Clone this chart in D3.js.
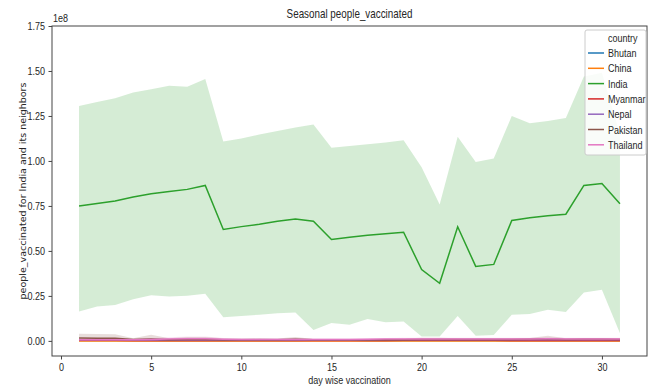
<!DOCTYPE html>
<html>
<head>
<meta charset="utf-8">
<script src="https://cdn.jsdelivr.net/npm/d3@7"></script>
<style>
  body { margin: 0; background: #fff; }
  text { font-family: "Liberation Sans", Arial, sans-serif; fill: #262626; }
</style>
</head>
<body>
<div id="chart-area"></div>
<script>
/* Data (people vaccinated, units of 1e8) */
const days = [1, 2, 3, 4, 5, 6, 7, 8, 9, 10, 11, 12, 13, 14, 15, 16, 17, 18, 19, 20, 21, 22, 23, 24, 25, 26, 27, 28, 29, 30, 31]
const countries = ['Bhutan', 'China', 'India', 'Myanmar', 'Nepal', 'Pakistan', 'Thailand']
const colors = ['#1f77b4', '#ff7f0e', '#2ca02c', '#d62728', '#9467bd', '#8c564b', '#e377c2']
const yTicks = [0, 0.25, 0.5, 0.75, 1.0, 1.25, 1.5, 1.75]
const xTicks = [0, 5, 10, 15, 20, 25, 30]

const indiaMean = [0.749, 0.764, 0.777, 0.800, 0.818, 0.830, 0.842, 0.864, 0.619, 0.635, 0.648, 0.665, 0.678, 0.665, 0.563, 0.576,
	0.587, 0.595, 0.604, 0.396, 0.320, 0.634, 0.414, 0.425, 0.669, 0.684, 0.695, 0.704, 0.864, 0.875, 0.762]
const indiaHigh = [1.306, 1.328, 1.349, 1.381, 1.399, 1.418, 1.412, 1.455, 1.108, 1.125, 1.147, 1.167, 1.186, 1.202, 1.074, 1.083,
	1.093, 1.102, 1.115, 0.965, 0.758, 1.135, 0.994, 1.013, 1.250, 1.210, 1.222, 1.239, 1.470, 1.490, 1.150]
const indiaLow = [0.163, 0.191, 0.200, 0.232, 0.253, 0.247, 0.251, 0.262, 0.132, 0.139, 0.145, 0.154, 0.158, 0.061, 0.099, 0.089,
	0.121, 0.104, 0.108, 0.024, 0.024, 0.139, 0.028, 0.033, 0.145, 0.150, 0.173, 0.160, 0.269, 0.284, 0.043]

const bhutanMean = [0.002, 0.002, 0.002, 0.002, 0.002, 0.002, 0.002, 0.002, 0.002, 0.002, 0.002, 0.002, 0.002, 0.003, 0.003, 0.003,
	0.002, 0.002, 0.002, 0.002, 0.002, 0.002, 0.002, 0.002, 0.002, 0.002, 0.002, 0.002, 0.002, 0.002, 0.002]
const chinaMean = [0.000, 0.000, 0.000, 0.000, 0.000, 0.000, 0.000, 0.000, 0.000, 0.000, 0.000, 0.000, 0.000, 0.000, 0.000, 0.000,
	0.000, 0.000, 0.000, 0.000, 0.000, 0.000, 0.000, 0.000, 0.000, 0.000, 0.000, 0.000, 0.000, 0.000, 0.000]
const myanmarMean = [0.003, 0.003, 0.003, 0.002, 0.002, 0.002, 0.002, 0.002, 0.002, 0.002, 0.002, 0.002, 0.002, 0.002, 0.002, 0.002,
	0.002, 0.002, 0.003, 0.003, 0.003, 0.003, 0.003, 0.003, 0.002, 0.002, 0.002, 0.002, 0.002, 0.002, 0.002]
const nepalMean = [0.006, 0.006, 0.006, 0.005, 0.005, 0.005, 0.005, 0.005, 0.005, 0.005, 0.005, 0.005, 0.005, 0.005, 0.005, 0.005,
	0.005, 0.006, 0.006, 0.006, 0.006, 0.006, 0.006, 0.006, 0.006, 0.006, 0.006, 0.006, 0.006, 0.006, 0.006]
const pakistanMean = [0.016, 0.015, 0.014, 0.008, 0.010, 0.007, 0.008, 0.008, 0.007, 0.007, 0.007, 0.007, 0.009, 0.006, 0.006, 0.006,
	0.006, 0.007, 0.007, 0.008, 0.008, 0.008, 0.008, 0.008, 0.008, 0.009, 0.012, 0.008, 0.009, 0.009, 0.008]
const pakistanHigh = [0.040, 0.038, 0.037, 0.014, 0.034, 0.014, 0.022, 0.022, 0.014, 0.013, 0.016, 0.013, 0.022, 0.010, 0.010, 0.010,
	0.011, 0.012, 0.013, 0.018, 0.018, 0.015, 0.014, 0.015, 0.014, 0.016, 0.028, 0.015, 0.016, 0.016, 0.014]
const thailandMean = [0.007, 0.007, 0.007, 0.007, 0.008, 0.010, 0.012, 0.012, 0.009, 0.008, 0.008, 0.008, 0.008, 0.008, 0.008, 0.008,
	0.009, 0.010, 0.010, 0.011, 0.011, 0.011, 0.011, 0.011, 0.011, 0.011, 0.012, 0.011, 0.011, 0.011, 0.011]
const thailandHigh = [0.012, 0.012, 0.012, 0.012, 0.014, 0.020, 0.024, 0.024, 0.016, 0.014, 0.014, 0.014, 0.014, 0.014, 0.014, 0.014,
	0.015, 0.016, 0.017, 0.018, 0.018, 0.018, 0.018, 0.018, 0.018, 0.018, 0.020, 0.018, 0.018, 0.018, 0.017]

const seriesData = [
	{ country: 'Bhutan', mean: bhutanMean },
	{ country: 'China', mean: chinaMean },
	{ country: 'India', mean: indiaMean, high: indiaHigh, low: indiaLow },
	{ country: 'Myanmar', mean: myanmarMean },
	{ country: 'Nepal', mean: nepalMean },
	{ country: 'Pakistan', mean: pakistanMean, high: pakistanHigh, low: chinaMean },
	{ country: 'Thailand', mean: thailandMean, high: thailandHigh, low: chinaMean }
]

/* Canvas */
const CANVAS_WIDTH = 649
const CANVAS_HEIGHT = 388
const margin = { top: 26, bottom: 32, left: 52, right: 2 }
const width = CANVAS_WIDTH - margin.left - margin.right
const height = CANVAS_HEIGHT - margin.top - margin.bottom
const NARROW = 0.82 // the reference font is a condensed one

// squeeze a text horizontally around its own anchor
function narrow(sel) {
	sel.each(function() {
		const x = +(this.getAttribute('x') || 0)
		d3.select(this).attr('transform', `translate(${x},0) scale(${NARROW},1) translate(${-x},0)`)
	})
}

const $svg = d3.select('#chart-area')
	.append('svg')
	.attr('width', CANVAS_WIDTH)
	.attr('height', CANVAS_HEIGHT)

const $scene = $svg.append('g')
	.attr('transform', `translate(${margin.left}, ${margin.top})`)

/* Scales */
const xScale = d3.scaleLinear().domain([-0.5, 32.5]).range([0, width])
const yScale = d3.scaleLinear().domain([-0.084, 1.75]).range([height, 0])
const colorScale = d3.scaleOrdinal().domain(countries).range(colors)

/* Bands and lines */
const area = d3.area()
	.x((d, i) => xScale(days[i]))
	.y0(d => yScale(d[0]))
	.y1(d => yScale(d[1]))

const line = d3.line()
	.x((d, i) => xScale(days[i]))
	.y(d => yScale(d))

const $viz = $scene.append('g')

$viz.selectAll('path.band')
	.data(seriesData.filter(s => s.high))
	.enter()
	.append('path')
	.attr('class', 'band')
	.attr('d', s => area(s.high.map((h, i) => [s.low[i], h])))
	.attr('fill', s => colorScale(s.country))
	.attr('fill-opacity', 0.2)

$viz.selectAll('path.line')
	.data(seriesData)
	.enter()
	.append('path')
	.attr('class', 'line')
	.attr('d', s => line(s.mean))
	.attr('fill', 'none')
	.attr('stroke', s => colorScale(s.country))
	.attr('stroke-width', 1.5)

/* Axes */
const xAxisCall = d3.axisBottom(xScale).tickValues(xTicks).tickSize(3.5).tickPadding(3.5).tickFormat(d3.format('d'))
const yAxisCall = d3.axisLeft(yScale).tickValues(yTicks).tickSize(3.5).tickPadding(3.5).tickFormat(d3.format('.2f'))

$scene.append('g')
	.attr('transform', `translate(0, ${height})`)
	.call(xAxisCall)
$scene.append('g').call(yAxisCall)

$scene.selectAll('.tick text')
	.attr('font-size', 11)
	.attr('fill', '#262626')
	.style('font-family', null)
	.call(narrow)
$scene.selectAll('.tick line').attr('stroke', '#444')
$scene.selectAll('.domain').remove()

// frame
$scene.append('rect')
	.attr('x', 0).attr('y', 0)
	.attr('width', width).attr('height', height)
	.attr('fill', 'none')
	.attr('stroke', '#444')
	.attr('stroke-width', 1)

/* Labels */
$svg.append('text')
	.attr('x', margin.left + width / 2)
	.attr('y', 18)
	.attr('text-anchor', 'middle')
	.attr('font-size', 12)
	.text('Seasonal people_vaccinated')
	.call(narrow)

$svg.append('text')
	.attr('x', margin.left + 1)
	.attr('y', 22)
	.attr('font-size', 11)
	.text('1e8')
	.call(narrow)

$svg.append('text')
	.attr('x', margin.left + width / 2)
	.attr('y', 384)
	.attr('text-anchor', 'middle')
	.attr('font-size', 11)
	.text('day wise vaccination')
	.call(narrow)

$svg.append('text')
	.attr('transform', `translate(26, ${margin.top + height / 2}) rotate(-90)`)
	.attr('text-anchor', 'middle')
	.attr('font-size', 9.5)
	.style('font-family', '"DejaVu Sans", sans-serif')
	.text('people_vaccinated for India and its neighbors')

/* Legend */
const $legend = $svg.append('g').attr('transform', 'translate(585, 30)')

$legend.append('rect')
	.attr('width', 61)
	.attr('height', 125)
	.attr('rx', 2)
	.attr('fill', '#fff')
	.attr('fill-opacity', 0.85)
	.attr('stroke', '#ccc')

$legend.append('text')
	.attr('x', 23)
	.attr('y', 12)
	.attr('font-size', 11)
	.text('country')
	.call(narrow)

const $items = $legend.selectAll('g.item')
	.data(countries)
	.enter()
	.append('g')
	.attr('class', 'item')
	.attr('transform', (d, i) => `translate(0, ${23 + i * 15.3})`)

$items.append('line')
	.attr('x1', 3).attr('x2', 19)
	.attr('stroke', d => colorScale(d))
	.attr('stroke-width', 1.5)

$items.append('text')
	.attr('x', 23)
	.attr('y', 4)
	.attr('font-size', 11)
	.text(d => d)
	.call(narrow)
</script>
</body>
</html>
